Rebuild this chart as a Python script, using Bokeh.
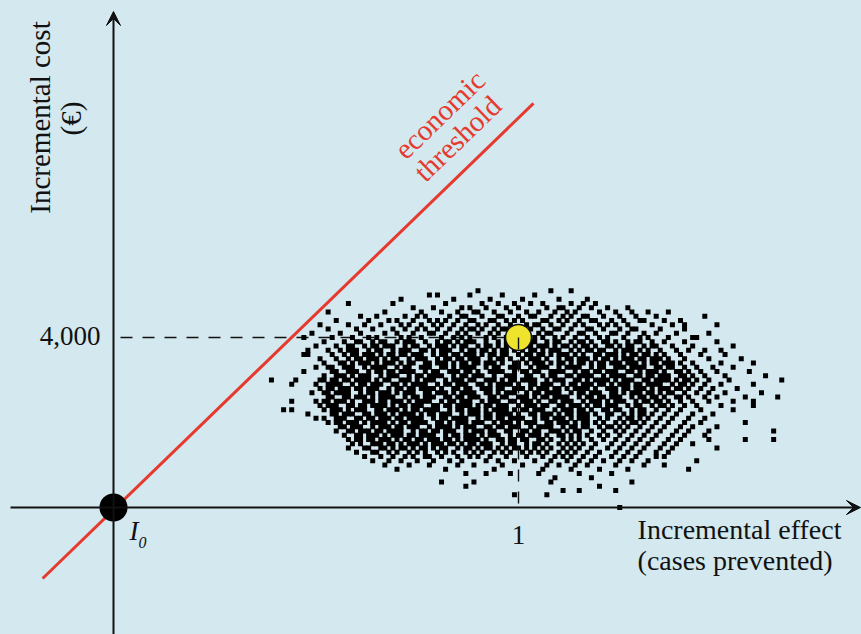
import math
from bokeh.plotting import figure
from bokeh.models import Arrow, VeeHead, Label, Range1d
from bokeh.embed import file_html
from bokeh.resources import INLINE

# ---------------- data ----------------
# Origin (reference intervention I0) and mean of the simulations
origin_effect = [0.0]
origin_cost = [0.0]
mean_effect = [1.0]
mean_cost = [4000.0]

# Economic threshold line (willingness-to-pay line) end points
threshold_effect = [-0.175, 1.037]
threshold_cost = [-1670, 9510]

# Tick labels
y_tick_value = 4000
y_tick_label = "4,000"
x_tick_value = 1
x_tick_label = "1"

# Simulated cost-effect pairs: cost (EUR) -> list of effects (hundredths of a case)
simulations = {
    5100: [90, 108, 113],
    5000: [78, 80, 88, 96, 104],
    4900: [71, 84, 93, 101, 110, 117],
    4800: [58, 69, 82, 91, 95, 99, 103, 106, 113, 116, 119],
    4700: [74, 79, 86, 88, 92, 97, 100, 107, 110, 111, 115, 118, 122, 127],
    4600: [53, 67, 76, 81, 85, 89, 90, 94, 98, 102, 105, 109, 112, 114, 120, 124, 128, 132, 137],
    4500: [61, 65, 72, 75, 77, 83, 86, 87, 91, 95, 96, 100, 103, 104, 108, 111, 113, 116, 117, 121, 125, 129, 134, 146],
    4400: [55, 63, 68, 70, 74, 78, 80, 82, 85, 88, 89, 93, 94, 97, 99, 101, 106, 107, 110, 112, 115, 118, 119, 123, 126, 130, 131, 136, 140],
    4300: [51, 58, 62, 66, 71, 73, 76, 79, 81, 84, 87, 90, 92, 95, 98, 102, 104, 105, 108, 111, 114, 116, 120, 122, 124, 127, 133, 138, 141, 149],
    4200: [53, 60, 64, 69, 72, 75, 77, 80, 83, 86, 88, 89, 91, 94, 96, 97, 100, 103, 106, 109, 110, 113, 117, 118, 121, 125, 128, 129, 135, 141],
    4100: [49, 56, 61, 67, 70, 74, 78, 79, 82, 85, 87, 90, 93, 95, 98, 99, 102, 105, 107, 108, 112, 115, 116, 119, 123, 124, 127, 131, 134, 139, 147],
    4000: [47, 54, 59, 63, 65, 71, 73, 76, 81, 84, 86, 88, 92, 94, 97, 104, 106, 109, 111, 114, 117, 120, 122, 126, 130, 132, 137, 143, 144],
    3900: [52, 57, 60, 61, 64, 66, 67, 70, 72, 73, 74, 77, 80, 82, 83, 85, 87, 88, 89, 92, 95, 97, 98, 101, 103, 104, 107, 109, 110, 113, 115, 116, 118, 121, 122, 124, 127, 129, 130, 133, 136, 141, 149],
    3800: [50, 55, 58, 59, 62, 64, 65, 67, 68, 69, 72, 74, 75, 78, 80, 81, 82, 84, 86, 87, 90, 92, 93, 95, 97, 100, 102, 103, 105, 106, 107, 109, 111, 112, 114, 116, 117, 119, 122, 123, 125, 127, 128, 131, 133, 134, 138, 143, 153],
    3700: [48, 53, 56, 58, 59, 60, 63, 65, 66, 69, 71, 72, 73, 76, 77, 79, 81, 82, 83, 86, 88, 89, 91, 92, 94, 96, 97, 99, 101, 103, 104, 106, 108, 109, 110, 113, 115, 117, 118, 120, 121, 124, 126, 127, 128, 130, 132, 135, 139, 142, 146, 150],
    3600: [47, 48, 54, 57, 59, 60, 62, 63, 64, 66, 68, 69, 71, 72, 74, 75, 76, 79, 81, 82, 84, 85, 87, 88, 89, 91, 93, 94, 96, 97, 100, 102, 103, 105, 106, 108, 110, 111, 112, 114, 116, 119, 120, 122, 123, 124, 126, 128, 129, 131, 132, 134, 136, 140, 145, 151],
    3500: [51, 55, 58, 60, 61, 63, 64, 65, 67, 69, 70, 73, 75, 76, 77, 80, 82, 83, 85, 86, 88, 89, 90, 93, 95, 96, 98, 101, 103, 104, 105, 107, 110, 112, 113, 115, 116, 117, 119, 121, 122, 124, 126, 127, 128, 130, 131, 133, 134, 135, 137, 141, 147, 155],
    3400: [52, 56, 57, 59, 61, 62, 63, 65, 67, 68, 69, 71, 73, 74, 77, 78, 80, 81, 82, 84, 86, 87, 89, 90, 92, 93, 94, 96, 99, 100, 102, 104, 105, 106, 108, 110, 111, 113, 115, 116, 118, 120, 121, 123, 124, 125, 127, 128, 129, 131, 133, 134, 136, 137, 138, 140, 143, 150, 158],
    3300: [50, 53, 54, 57, 58, 59, 62, 64, 65, 66, 67, 70, 72, 73, 76, 77, 78, 81, 82, 84, 86, 87, 88, 89, 92, 94, 95, 98, 99, 100, 103, 105, 106, 107, 110, 112, 113, 114, 115, 118, 120, 121, 124, 125, 126, 128, 129, 130, 131, 134, 135, 137, 138, 141, 144, 148, 153],
    3200: [47, 54, 55, 58, 59, 60, 63, 65, 66, 68, 69, 71, 72, 73, 74, 77, 79, 80, 83, 84, 85, 87, 88, 90, 93, 94, 95, 96, 99, 101, 102, 104, 105, 108, 109, 110, 111, 114, 116, 117, 119, 120, 122, 123, 124, 127, 128, 130, 132, 133, 134, 136, 139, 140, 142, 145, 149, 157],
    3100: [52, 55, 56, 57, 59, 61, 62, 63, 66, 68, 69, 70, 73, 75, 76, 78, 79, 80, 81, 84, 86, 87, 89, 90, 91, 94, 97, 98, 99, 102, 103, 106, 108, 109, 112, 113, 115, 116, 117, 118, 121, 123, 124, 125, 126, 129, 130, 132, 133, 135, 136, 137, 140, 141, 143, 146, 151, 161],
    3000: [39, 45, 51, 52, 54, 55, 57, 58, 60, 61, 62, 63, 65, 67, 68, 71, 72, 73, 75, 77, 78, 79, 82, 84, 85, 86, 88, 89, 92, 93, 94, 96, 98, 99, 101, 102, 103, 104, 107, 109, 110, 111, 114, 115, 117, 119, 120, 121, 122, 124, 126, 127, 128, 131, 132, 134, 135, 136, 137, 139, 141, 142, 144, 147, 152, 165],
    2900: [44, 50, 53, 54, 55, 56, 59, 61, 62, 64, 65, 66, 69, 70, 72, 74, 75, 76, 77, 80, 82, 83, 85, 86, 87, 90, 91, 93, 95, 96, 97, 98, 100, 103, 104, 106, 107, 108, 111, 113, 114, 116, 117, 118, 120, 121, 123, 125, 126, 127, 129, 130, 132, 133, 134, 135, 138, 140, 141, 143, 146, 150, 158],
    2800: [51, 53, 54, 56, 57, 58, 60, 61, 63, 64, 65, 68, 70, 71, 73, 74, 76, 77, 78, 79, 81, 84, 85, 87, 88, 91, 92, 93, 95, 96, 99, 100, 101, 103, 105, 106, 107, 109, 110, 112, 114, 115, 116, 117, 119, 122, 123, 124, 126, 127, 129, 130, 131, 133, 135, 136, 137, 139, 140, 142, 145, 148, 154],
    2700: [49, 52, 53, 55, 56, 57, 58, 61, 63, 64, 66, 67, 68, 70, 72, 73, 74, 77, 78, 80, 81, 82, 84, 86, 87, 88, 89, 92, 93, 95, 97, 98, 99, 102, 104, 105, 107, 108, 109, 110, 113, 115, 116, 118, 119, 120, 123, 124, 126, 128, 129, 130, 132, 133, 135, 137, 138, 141, 144, 147, 151, 160],
    2600: [53, 54, 57, 58, 60, 61, 62, 64, 66, 67, 68, 69, 72, 74, 75, 77, 78, 79, 82, 83, 85, 86, 88, 89, 90, 93, 94, 96, 97, 100, 101, 102, 104, 106, 107, 109, 110, 111, 112, 115, 117, 118, 120, 121, 123, 124, 125, 128, 130, 131, 133, 134, 136, 139, 140, 142, 146, 149, 156, 164],
    2500: [44, 50, 52, 53, 55, 56, 57, 59, 62, 63, 64, 66, 67, 69, 70, 71, 73, 75, 76, 77, 78, 81, 83, 84, 86, 87, 88, 91, 93, 94, 95, 98, 99, 101, 102, 103, 105, 108, 109, 111, 112, 113, 116, 118, 119, 120, 122, 124, 125, 126, 129, 131, 132, 134, 135, 137, 140, 143, 147, 153, 158],
    2400: [51, 53, 54, 55, 58, 59, 61, 62, 64, 65, 66, 67, 69, 71, 72, 74, 75, 76, 79, 80, 82, 83, 85, 86, 87, 88, 90, 92, 93, 95, 96, 97, 100, 102, 103, 104, 106, 107, 110, 111, 113, 114, 115, 117, 119, 120, 122, 123, 124, 127, 129, 130, 133, 135, 136, 138, 141, 144, 150, 158],
    2300: [42, 44, 52, 54, 55, 56, 58, 60, 61, 62, 65, 66, 68, 69, 70, 72, 74, 75, 77, 78, 79, 80, 83, 85, 86, 88, 89, 90, 92, 94, 95, 96, 97, 99, 101, 102, 104, 105, 106, 109, 111, 112, 113, 115, 116, 118, 121, 122, 124, 125, 128, 130, 131, 134, 137, 140, 145, 153],
    2200: [48, 54, 55, 57, 58, 59, 62, 63, 65, 66, 67, 69, 71, 72, 73, 74, 76, 78, 79, 81, 82, 83, 86, 88, 89, 90, 92, 93, 95, 96, 97, 98, 100, 103, 104, 106, 107, 108, 110, 112, 113, 115, 116, 117, 119, 122, 123, 126, 128, 130, 131, 133, 136, 139, 143, 148],
    2100: [50, 52, 55, 56, 57, 60, 61, 63, 64, 66, 67, 68, 70, 71, 73, 74, 75, 76, 79, 81, 82, 84, 85, 86, 87, 90, 92, 93, 95, 96, 98, 99, 100, 101, 104, 106, 107, 109, 110, 111, 113, 115, 116, 117, 120, 122, 125, 127, 128, 130, 132, 135, 138, 142, 146],
    2000: [53, 55, 56, 58, 59, 60, 62, 64, 65, 66, 67, 69, 71, 72, 74, 75, 76, 77, 80, 81, 83, 85, 86, 87, 89, 90, 91, 94, 96, 97, 98, 100, 102, 103, 104, 107, 108, 110, 111, 112, 114, 116, 117, 119, 121, 124, 126, 128, 129, 131, 134, 137, 141, 145, 156],
    1900: [56, 57, 59, 60, 61, 64, 66, 67, 68, 70, 71, 73, 74, 75, 78, 80, 81, 82, 83, 85, 87, 88, 89, 92, 93, 95, 96, 98, 99, 100, 103, 105, 106, 107, 108, 111, 113, 114, 116, 117, 120, 122, 123, 125, 127, 130, 133, 136, 140, 143, 149],
    1800: [55, 58, 59, 61, 62, 63, 65, 66, 68, 69, 70, 71, 74, 76, 77, 79, 80, 82, 83, 84, 87, 89, 90, 91, 93, 94, 97, 98, 101, 102, 104, 105, 108, 109, 110, 112, 114, 115, 118, 121, 124, 126, 129, 132, 135, 139, 142, 147, 163],
    1700: [57, 60, 61, 63, 64, 65, 67, 69, 70, 71, 73, 74, 76, 77, 78, 79, 82, 84, 85, 87, 88, 89, 91, 93, 94, 95, 98, 100, 101, 103, 104, 105, 107, 110, 111, 113, 115, 117, 120, 122, 125, 128, 131, 134, 138, 141, 146],
    1600: [58, 60, 61, 63, 64, 66, 67, 68, 70, 72, 73, 75, 76, 78, 79, 80, 82, 83, 85, 87, 88, 89, 90, 92, 95, 96, 98, 99, 101, 102, 105, 106, 108, 111, 113, 115, 118, 121, 124, 127, 130, 133, 137, 140, 147, 156, 163],
    1500: [59, 61, 64, 65, 66, 68, 69, 71, 73, 74, 75, 77, 79, 80, 81, 83, 84, 86, 88, 89, 91, 92, 93, 96, 98, 99, 102, 104, 105, 107, 110, 112, 114, 116, 119, 123, 126, 129, 132, 136, 139, 143],
    1400: [58, 62, 63, 66, 67, 69, 71, 72, 74, 76, 77, 79, 81, 82, 85, 87, 88, 90, 92, 93, 95, 97, 99, 100, 102, 104, 106, 108, 111, 113, 115, 118, 122, 125, 128, 131, 135, 138, 149],
    1300: [60, 64, 65, 68, 70, 73, 75, 77, 80, 82, 84, 87, 89, 91, 94, 96, 98, 101, 103, 105, 107, 110, 112, 114, 117, 120, 124, 127, 130, 134, 137],
    1200: [62, 66, 69, 72, 74, 77, 78, 81, 85, 88, 90, 93, 97, 102, 106, 109, 111, 113, 116, 119, 123, 126, 129, 134, 136],
    1100: [64, 68, 71, 75, 79, 83, 86, 92, 95, 99, 104, 108, 112, 115, 118, 121, 125, 128, 132, 144],
    1000: [67, 73, 78, 85, 89, 96, 101, 107, 110, 114, 117, 124, 131, 136],
    900: [70, 82, 94, 106, 113, 120, 127, 142],
    800: [87, 92, 98, 105, 115, 123],
    700: [109, 118],
    600: [81, 89, 108, 128],
    500: [87, 120],
    400: [111, 115, 124],
    300: [99, 107],
    0: [125],
}

sim_effect = []
sim_cost = []
for cost, effects in simulations.items():
    for e in effects:
        sim_effect.append(e / 100.0)
        sim_cost.append(cost)

# ---------------- styles ----------------
BG = "#d3e8ef"
INK = "#111111"
RED = "#e63a2e"
YELLOW = "#eee42e"
FONT = "Liberation Serif"
FS = "28px"

p = figure(width=861, height=634,
           x_range=Range1d(-0.27901, 1.84691), y_range=Range1d(-2988, 11929),
           output_backend="svg", toolbar_location=None,
           x_axis_location=None, y_axis_location=None,
           min_border=0, background_fill_color=BG, border_fill_color=BG,
           outline_line_color=None)
p.grid.visible = False

# axes with arrow heads
p.add_layout(Arrow(end=VeeHead(size=14, fill_color=INK, line_color=INK, line_width=1),
                   x_start=-0.2543, y_start=0, x_end=1.8444, y_end=0,
                   line_color=INK, line_width=2))
p.add_layout(Arrow(end=VeeHead(size=14, fill_color=INK, line_color=INK, line_width=1),
                   x_start=0, y_start=-3200, x_end=0, y_end=11670,
                   line_color=INK, line_width=2))

# economic threshold
p.line(threshold_effect, threshold_cost, line_color=RED, line_width=3)

# horizontal dashed reference line at 4,000
p.line([0, mean_effect[0]], [mean_cost[0], mean_cost[0]], line_color=INK,
       line_width=1.4, line_dash="12 10", line_dash_offset=15)

# simulation cloud
p.scatter(sim_effect, sim_cost, marker="square", size=5, fill_color="black",
          line_color=None)

# mean point
p.scatter(mean_effect, mean_cost, size=26, fill_color=YELLOW, line_color=INK,
          line_width=1.5)

# vertical dashed line from mean to x axis
p.line([mean_effect[0], mean_effect[0]], [mean_cost[0], 0], line_color=INK,
       line_width=1.4, line_dash="12 10")

# origin point
p.scatter(origin_effect, origin_cost, size=28, fill_color="black", line_color=None)

# ---------------- texts ----------------
def lab(**kw):
    base = dict(text_font=FONT, text_font_size=FS, text_color=INK)
    base.update(kw)
    p.add_layout(Label(**base))

lab(x=0, y=y_tick_value, x_offset=-13, y_offset=1, text=y_tick_label,
    text_font_size="27px", text_align="right", text_baseline="alphabetic")
lab(x=x_tick_value, y=0, y_offset=-27, text=x_tick_label,
    text_font_size="27px", text_align="center", text_baseline="alphabetic")
lab(x=0, y=0, x_offset=16, y_offset=-23, text="I", text_font_style="italic",
    text_font_size="27px", text_align="left", text_baseline="alphabetic")
lab(x=0, y=0, x_offset=25, y_offset=-35, text="0", text_font_style="italic",
    text_font_size="16px", text_align="left", text_baseline="alphabetic")
lab(x=1.294, y=0, y_offset=-22, text="Incremental effect",
    text_align="left", text_baseline="alphabetic")
lab(x=1.294, y=0, y_offset=-53, text="(cases prevented)",
    text_align="left", text_baseline="alphabetic")
lab(x=0, y=9176, x_offset=-73, text="Incremental cost", angle=math.pi / 2,
    text_font_size="29px", text_align="center", text_baseline="alphabetic")
lab(x=0, y=9150, x_offset=-42, text="(€)", angle=math.pi / 2,
    text_font_size="29px", text_align="center", text_baseline="alphabetic")
lab(x=0.805, y=9247, text="economic", angle=math.radians(44), text_color=RED,
    text_font_size="29px", text_align="center", text_baseline="middle")
lab(x=0.849, y=8682, text="threshold", angle=math.radians(44), text_color=RED,
    text_font_size="29px", text_align="center", text_baseline="middle")

html = file_html(p, INLINE).replace(
    "</head>", "<style>html, body { background-color: #d3e8ef; }</style></head>")
open("out.html", "w").write(html)
